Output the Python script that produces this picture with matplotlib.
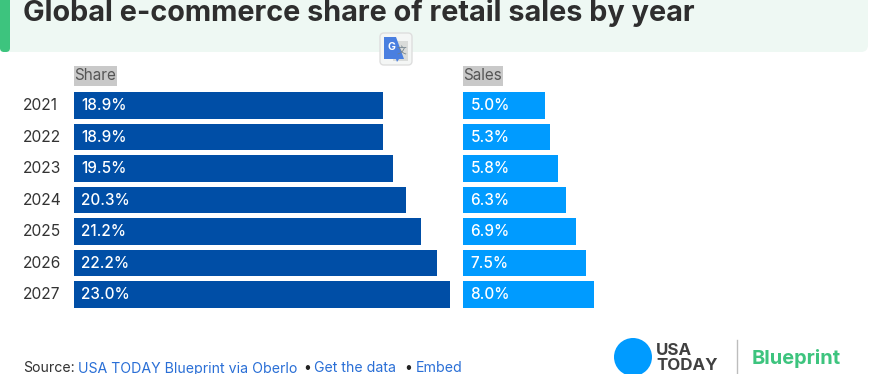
import matplotlib
matplotlib.use("Agg")
import matplotlib.pyplot as plt
from matplotlib.patches import FancyBboxPatch, Rectangle, Circle, Polygon

years = ["2021", "2022", "2023", "2024", "2025", "2026", "2027"]
share = [18.9, 18.9, 19.5, 20.3, 21.2, 22.2, 23.0]
sales = [5.0, 5.3, 5.8, 6.3, 6.9, 7.5, 8.0]
title = "Global e-commerce share of retail sales by year"

W, H = 872, 374
FONT = "Inter"
plt.rcParams["font.family"] = [FONT, "DejaVu Sans"]

fig = plt.figure(figsize=(W / 100, H / 100), dpi=100, facecolor="white")

# page layer in pixel coordinates
bg = fig.add_axes([0, 0, 1, 1])
bg.set_xlim(0, W)
bg.set_ylim(H, 0)
bg.axis("off")

bg.add_patch(FancyBboxPatch((0, -20), 868, 72, boxstyle="round,pad=0,rounding_size=7",
                            fc="#EEF8F3", ec="none"))
bg.add_patch(FancyBboxPatch((0, -20), 10, 72, boxstyle="round,pad=0,rounding_size=4",
                            fc="#3DC47E", ec="none"))
bg.text(23, 13, title, fontsize=20.75, fontweight="bold", color="#2E2E2E",
        va="center", ha="left")

# translate badge
bg.add_patch(FancyBboxPatch((380, 33), 32, 32, boxstyle="round,pad=0,rounding_size=4",
                            fc="#F4F6F5", ec="#DEDEDE", lw=1))
bg.add_patch(Rectangle((393, 41), 15, 20, fc="#DADCDA", ec="none"))
bg.add_patch(Polygon([(384, 37), (396, 37), (404, 59), (399, 59), (397, 62), (396, 59), (384, 59)],
                     closed=True, fc="#4A7FE0", ec="none"))
bg.text(391, 47, "G", fontsize=7.5, fontweight="bold", color="white", ha="center", va="center")
bg.text(402, 51, "文", fontsize=7, color="#6F7F8A", ha="center", va="center",
        family=["Noto Sans CJK SC", "DejaVu Sans"])

# column headers with grey highlight
for label, x0, x1 in [("Share", 74, 117), ("Sales", 463, 503)]:
    bg.add_patch(Rectangle((x0, 66), x1 - x0, 20, fc="#C9C9C9", ec="none"))
    bg.text(x0, 75.5, label, fontsize=11, color="#555555", va="center", ha="left")

# bars
top, bottom = 89.75, 310.25


def panel(x0, x1, values, color, xmax):
    ax = fig.add_axes([x0 / W, 1 - bottom / H, (x1 - x0) / W, (bottom - top) / H])
    ax.patch.set_alpha(0)
    ys = list(range(len(values)))
    ax.barh(ys, values, height=0.84, color=color, edgecolor="none")
    ax.set_xlim(0, xmax)
    ax.set_ylim(len(values) - 0.5, -0.5)
    ax.axis("off")
    for y, v in zip(ys, values):
        ax.annotate(f"{v:.1f}%", (0, y), xytext=(5.3, 0), textcoords="offset points",
                    fontsize=11, color="white", va="center", ha="left", fontweight="medium")
    return ax


ax1 = panel(74, 450, share, "#004EA6", 23.0)
ax2 = panel(463, 595, sales, "#009BFF", 8.05)
for y, yr in enumerate(years):
    ax1.annotate(yr, (0, y), xytext=(-36.5, 0), textcoords="offset points",
                 fontsize=11.2, color="#333333", va="center", ha="left")

# footer
bg.text(23, 368.5, "Source:", fontsize=10.2, color="#333333", va="center", ha="left")
for text, x, col in [("USA TODAY Blueprint via Oberlo", 78, "#2A6FD6"),
                     ("•", 303, "#222222"),
                     ("Get the data", 314, "#2A6FD6"),
                     ("•", 404, "#222222"),
                     ("Embed", 416, "#2A6FD6")]:
    bg.text(x, 368.5, text, fontsize=10.2, color=col, va="center", ha="left")

# logo
bg.add_patch(Circle((633, 357), 19, fc="#009BFF", ec="none"))
bg.text(656, 350.5, "USA", fontsize=12.2, fontweight="bold", color="#404040", va="center", ha="left")
bg.text(656, 365.5, "TODAY", fontsize=12.2, fontweight="bold", color="#404040", va="center", ha="left")
bg.plot([737, 737], [340, 374], color="#BDBDBD", lw=1)
bg.text(752, 358, "Blueprint", fontsize=14.4, fontweight="bold", color="#3DC47E", va="center", ha="left")

fig.savefig("out.png", dpi=100, facecolor="white")
